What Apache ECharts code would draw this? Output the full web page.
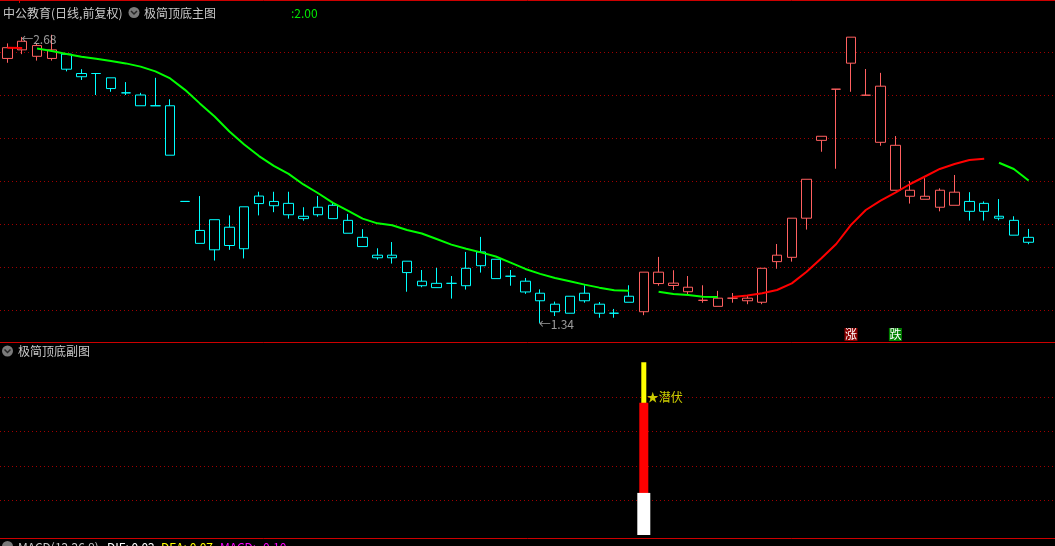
<!DOCTYPE html>
<html><head><meta charset="utf-8">
<style>html,body{margin:0;padding:0;background:#000;overflow:hidden}#c{width:1055px;height:546px}</style>
<script src="https://cdn.jsdelivr.net/npm/echarts@6/dist/echarts.min.js"></script>
</head><body><div id="c"></div>
<script>
// ---- data (prices) ----
const days = Array.from({length: 70}, (_, i) => 'D' + (i + 1));
const open = [2.57,2.61,2.58,2.57,2.59,2.50,2.50,2.48,2.41,2.40,
  2.35,2.35,1.905,1.77,1.82,1.785,1.88,1.93,1.905,1.896,
  1.836,1.878,1.887,1.817,1.738,1.655,1.655,1.627,1.534,1.524,
  1.524,1.594,1.670,1.636,1.557,1.534,1.478,1.427,1.464,1.478,
  1.427,1.385,1.464,1.392,1.523,1.514,1.485,1.445,1.417,1.455,
  1.443,1.436,1.625,1.645,1.827,2.189,2.427,2.548,2.399,2.18,
  1.957,1.929,1.915,1.878,1.887,1.905,1.896,1.836,1.817,1.738];
const close = [2.62,2.65,2.63,2.61,2.52,2.485,2.50,2.43,2.41,2.35,
  2.35,2.12,1.905,1.71,1.68,1.70,1.685,1.895,1.885,1.843,
  1.825,1.843,1.825,1.757,1.695,1.643,1.643,1.574,1.513,1.504,
  1.524,1.513,1.606,1.546,1.557,1.484,1.443,1.392,1.385,1.443,
  1.385,1.385,1.436,1.576,1.576,1.525,1.506,1.445,1.455,1.455,
  1.455,1.594,1.655,1.827,2.008,2.208,2.427,2.669,2.399,2.441,
  2.166,1.957,1.929,1.957,1.948,1.859,1.859,1.827,1.748,1.715];
const low = [2.55,2.59,2.56,2.56,2.51,2.47,2.40,2.415,2.40,2.35,
  2.35,2.12,1.905,1.71,1.63,1.68,1.64,1.84,1.855,1.825,
  1.815,1.834,1.825,1.757,1.695,1.634,1.616,1.485,1.506,1.504,
  1.453,1.495,1.574,1.546,1.513,1.475,1.34,1.372,1.385,1.434,
  1.364,1.364,1.436,1.376,1.513,1.493,1.471,1.434,1.417,1.434,
  1.427,1.427,1.592,1.625,1.774,2.136,2.057,2.415,2.399,2.164,
  1.957,1.895,1.915,1.859,1.887,1.816,1.816,1.817,1.748,1.706];
const high = [2.64,2.67,2.64,2.68,2.59,2.52,2.50,2.48,2.46,2.41,
  2.48,2.38,1.905,1.93,1.82,1.84,1.88,1.95,1.95,1.95,
  1.878,1.93,1.898,1.847,1.776,1.687,1.716,1.627,1.586,1.596,
  1.558,1.670,1.740,1.636,1.586,1.549,1.496,1.439,1.464,1.515,
  1.437,1.405,1.515,1.576,1.647,1.585,1.558,1.515,1.489,1.479,
  1.470,1.594,1.707,1.827,2.008,2.208,2.427,2.669,2.521,2.503,
  2.209,2.0,2.013,1.966,2.028,1.948,1.905,1.916,1.836,1.777];
// r = red hollow, c = cyan hollow
const candleColor = ('rrrrcccccc'+'cccccccccc'+'cccccccccc'+'cccccccccc'+
  'cccrrrrrrr'+'rrrrrrrrrr'+'rrrrrccccc').split('');
const trendLine = [2.620,2.619,2.616,2.605,2.591,2.578,2.569,2.558,2.547,2.532,
  2.510,2.477,2.424,2.361,2.300,2.230,2.170,2.116,2.070,2.033,
  1.984,1.943,1.898,1.862,1.825,1.803,1.794,1.772,1.756,1.730,
  1.704,1.685,1.668,1.649,1.620,1.591,1.568,1.549,1.534,1.518,
  1.504,1.492,1.489,null,1.485,1.474,1.470,1.462,1.461,1.461,
  1.467,1.478,1.493,1.524,1.578,1.641,1.707,1.796,1.865,1.909,
  1.946,1.986,2.021,2.056,2.079,2.098,2.103,2.085,2.056,2.002];
// r = red segment, g = green segment, - = none
const trendColor = ('rrgggggggg'+'gggggggggg'+'gggggggggg'+'gggggggggg'+
  'ggg-gggggr'+'rrrrrrrrrr'+'rrrrrrrggg').split('');
const subWhite = [[43, 1.22]];
const subRed = [[43, 3.83]];
const subYellow = [[43, 5.01]];
const subTag = [[43, 4.0]];
const riseTag = [[57, 1.286]];
const fallTag = [[60, 1.286]];
const highMark = [[1, 2.68]];
const lowMark = [[36, 1.34]];

// ---- build ----
const FONT = '"Noto Sans CJK SC", "Noto Sans", sans-serif';
const colMap = {r: '#ff6060', c: '#00ffff'};
const candleData = open.map((o, i) => {
  const col = colMap[candleColor[i]];
  return {value: [o, close[i], low[i], high[i]],
    itemStyle: {color: '#000', color0: '#000', borderColor: col, borderColor0: col, borderColorDoji: col, borderWidth: 1}};
});
const greenLine = trendLine.map((v, i) => trendColor[i] === 'g' ? v : null);
const redLine = trendLine.map((v, i) => trendColor[i] === 'r' ? v : null);

const hidden = {show: false};
const catAxis = (g) => ({type: 'category', gridIndex: g, data: days, boundaryGap: true, show: false});
const dotted = {show: true, lineStyle: {color: '#a00000', width: 1, type: [1, 3]}};

const tagSeries = (data, txt, bg) => ({type: 'scatter', xAxisIndex: 0, yAxisIndex: 0, data: data,
  symbol: 'rect', symbolSize: [13, 13], itemStyle: {color: bg, opacity: 1}, silent: true, z: 5,
  label: {show: true, position: 'inside', formatter: txt, color: '#ffffff', fontSize: 12, fontFamily: FONT,
    textBorderWidth: 0}});

const chart = echarts.init(document.getElementById('c'), null, {renderer: 'canvas'});
chart.setOption({
  animation: false,
  backgroundColor: '#000',
  textStyle: {fontFamily: FONT},
  grid: [
    {left: -1, width: 1037, top: 19.75, height: 322.5},
    {left: 0, right: 0, top: 52, height: 258},
    {left: -1, width: 1037, top: 341.8, height: 193.2},
    {left: 0, right: 0, top: 397, height: 103.5}
  ],
  xAxis: [
    catAxis(0),
    {type: 'value', gridIndex: 1, min: 0, max: 1, show: false},
    catAxis(2), catAxis(2), catAxis(2),
    {type: 'value', gridIndex: 3, min: 0, max: 1, show: false}
  ],
  yAxis: [
    {type: 'value', gridIndex: 0, min: 1.25, max: 2.75, show: false},
    {type: 'value', gridIndex: 1, min: 1.4, max: 2.6, interval: 0.2, axisLine: hidden, axisTick: hidden, axisLabel: hidden, splitLine: dotted},
    {type: 'value', gridIndex: 2, min: 0, max: 5.6, show: false},
    {type: 'value', gridIndex: 3, min: 1, max: 4, interval: 1, axisLine: hidden, axisTick: hidden, axisLabel: hidden, splitLine: dotted}
  ],
  series: [
    {type: 'line', xAxisIndex: 0, yAxisIndex: 0, data: greenLine, symbol: 'none', connectNulls: false,
      lineStyle: {color: '#00ff00', width: 2}, silent: true},
    {type: 'line', xAxisIndex: 0, yAxisIndex: 0, data: redLine, symbol: 'none', connectNulls: false,
      lineStyle: {color: '#ff0000', width: 2}, silent: true},
    {type: 'candlestick', xAxisIndex: 0, yAxisIndex: 0, data: candleData, barWidth: 10, silent: true},
    {type: 'scatter', xAxisIndex: 0, yAxisIndex: 0, data: highMark, symbolSize: 1, itemStyle: {color: 'transparent'},
      label: {show: true, position: 'right', distance: -1.5, offset: [0, 5], formatter: (p) => '←' + p.value[1].toFixed(2), color: '#c0c0c0', fontSize: 12, fontFamily: FONT}},
    {type: 'scatter', xAxisIndex: 0, yAxisIndex: 0, data: lowMark, symbolSize: 1, itemStyle: {color: 'transparent'},
      label: {show: true, position: 'right', distance: -2, offset: [0, 2], formatter: (p) => '←' + p.value[1].toFixed(2), color: '#c0c0c0', fontSize: 12, fontFamily: FONT}},
    tagSeries(riseTag, '涨', '#8b0000'),
    tagSeries(fallTag, '跌', '#008000'),
    {type: 'bar', xAxisIndex: 2, yAxisIndex: 2, data: subYellow, barWidth: 5, itemStyle: {color: '#ffff00'}, silent: true},
    {type: 'bar', xAxisIndex: 3, yAxisIndex: 2, data: subRed, barWidth: 9, itemStyle: {color: '#ff0000'}, silent: true},
    {type: 'bar', xAxisIndex: 4, yAxisIndex: 2, data: subWhite, barWidth: 13, itemStyle: {color: '#ffffff'}, silent: true},
    {type: 'scatter', xAxisIndex: 2, yAxisIndex: 2, data: subTag, symbolSize: 1, itemStyle: {color: 'transparent'},
      label: {show: true, position: 'right', distance: 2.5, formatter: '★潜伏', color: '#ffff00', fontSize: 12, fontFamily: FONT}}
  ],
  graphic: [
    {type: 'line', shape: {x1: 0, y1: 0.5, x2: 1055, y2: 0.5}, style: {stroke: '#cc0000', lineWidth: 1}, silent: true},
    {type: 'line', shape: {x1: 19.5, y1: 0, x2: 19.5, y2: 3}, style: {stroke: '#cc0000', lineWidth: 1}, silent: true},
    {type: 'line', shape: {x1: 0, y1: 342.5, x2: 1055, y2: 342.5}, style: {stroke: '#cc0000', lineWidth: 1}, silent: true},
    {type: 'line', shape: {x1: 0, y1: 538.5, x2: 1055, y2: 538.5}, style: {stroke: '#cc0000', lineWidth: 1}, silent: true},
    {type: 'text', x: 3, y: 13, style: {text: '中公教育(日线,前复权)', fill: '#c8c8c8', font: '12px ' + FONT, verticalAlign: 'middle'}},
    {type: 'circle', shape: {cx: 134, cy: 12.5, r: 5.5}, style: {fill: '#7a7a7a'}},
    {type: 'polyline', shape: {points: [[131, 11], [134, 14], [137, 11]]}, style: {stroke: '#262626', lineWidth: 1.5, fill: null}},
    {type: 'text', x: 144, y: 13, style: {text: '极简顶底主图', fill: '#c8c8c8', font: '12px ' + FONT, verticalAlign: 'middle'}},
    {type: 'text', x: 291, y: 13, style: {text: ':2.00', fill: '#00e600', font: '12px ' + FONT, verticalAlign: 'middle'}},
    {type: 'circle', shape: {cx: 7.5, cy: 351, r: 5.5}, style: {fill: '#7a7a7a'}},
    {type: 'polyline', shape: {points: [[4.5, 349.5], [7.5, 352.5], [10.5, 349.5]]}, style: {stroke: '#262626', lineWidth: 1.5, fill: null}},
    {type: 'text', x: 18, y: 351, style: {text: '极简顶底副图', fill: '#c8c8c8', font: '12px ' + FONT, verticalAlign: 'middle'}},
    {type: 'circle', shape: {cx: 7.5, cy: 546.5, r: 5.5}, style: {fill: '#7a7a7a'}},
    {type: 'text', x: 18, y: 547, style: {text: 'MACD(12,26,9)', fill: '#c8c8c8', font: '12px ' + FONT, verticalAlign: 'middle'}},
    {type: 'text', x: 107, y: 547, style: {text: 'DIF: 0.02', fill: '#ffffff', font: '12px ' + FONT, verticalAlign: 'middle'}},
    {type: 'text', x: 161, y: 547, style: {text: 'DEA: 0.07', fill: '#ffff00', font: '12px ' + FONT, verticalAlign: 'middle'}},
    {type: 'text', x: 220, y: 547, style: {text: 'MACD: -0.10', fill: '#ff00ff', font: '12px ' + FONT, verticalAlign: 'middle'}}
  ]
});
</script></body></html>
